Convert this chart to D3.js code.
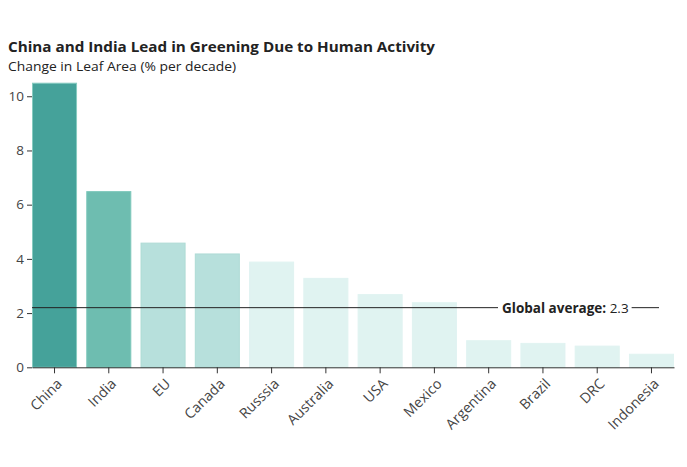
<!DOCTYPE html>
<html>
<head>
<meta charset="utf-8">
<script src="https://cdn.jsdelivr.net/npm/d3@7"></script>
<style>
  body { margin: 0; background: #fff; }
  svg { font-family: "Open Sans", Lato, sans-serif; }
</style>
</head>
<body>
<div id="container"><svg></svg></div>
<script>
let width = 687;
let height = 467;

// data
let countries = ["China", "India", "EU", "Canada", "Russsia", "Australia", "USA", "Mexico", "Argentina", "Brazil", "DRC", "Indonesia"];
let leafChange = [10.5, 6.5, 4.6, 4.2, 3.9, 3.3, 2.7, 2.4, 1.0, 0.9, 0.8, 0.5];
let yTicks = [0, 2, 4, 6, 8, 10];
let globalAvg = 2.3;
let globalAvgLine = 2.2;

let margin = {top: 82, right: 13, bottom: 100, left: 32};

let svg = d3.select('#container').select('svg')
    .attr('width', width)
    .attr('height', height);

let x = d3.scaleBand()
    .domain(countries)
    .range([margin.left, width - margin.right])
    .paddingInner(0.17)
    .paddingOuter(0);

let y = d3.scaleLinear()
    .domain([0, 10.5])
    .range([367.3, 82.7]);

// bar colour by size of change
let color = d3.scaleThreshold()
    .domain([4, 5, 10])
    .range(["#e0f3f1", "#b7e0dc", "#6ebdb0", "#45a29a"]);
let stroke = d3.scaleThreshold()
    .domain([4, 5, 10])
    .range(["#e0f3f1", "#aedbd5", "#7ec8bb", "#86cbc0"]);

let rows = countries.map((c, i) => ({name: c, value: leafChange[i]}));

// title
svg.append("text")
    .attr("x", 8).attr("y", 52)
    .attr("font-size", 14.6).attr("font-weight", "bold").attr("fill", "#222")
    .attr("textLength", 427).attr("lengthAdjust", "spacingAndGlyphs")
    .text("China and India Lead in Greening Due to Human Activity");
svg.append("text")
    .attr("x", 8).attr("y", 71)
    .attr("font-size", 13.5).attr("fill", "#222")
    .attr("textLength", 228).attr("lengthAdjust", "spacingAndGlyphs")
    .text("Change in Leaf Area (% per decade)");

// bars
svg.append("g")
    .selectAll("rect")
    .data(rows)
    .join("rect")
    .attr("x", d => x(d.name) + 0.5)
    .attr("y", d => y(d.value) + 0.5)
    .attr("width", x.bandwidth() - 1)
    .attr("height", d => y(0) - y(d.value) - 0.5)
    .attr("fill", d => color(d.value))
    .attr("stroke", d => stroke(d.value))
    .attr("stroke-width", 1);

// y axis
let yAxis = svg.append("g")
    .attr("transform", `translate(${margin.left},0)`)
    .call(d3.axisLeft(y).tickValues(yTicks).tickSize(5).tickPadding(3));
yAxis.select(".domain").remove();
yAxis.selectAll("line").attr("stroke", "#333");
yAxis.selectAll("text")
    .attr("font-family", "Open Sans, sans-serif")
    .attr("font-size", 13.5).attr("fill", "#444");

// x axis
let xAxis = svg.append("g")
    .attr("transform", `translate(0,${y(0)})`)
    .call(d3.axisBottom(x).tickSize(6).tickSizeOuter(0));
xAxis.select(".domain").attr("stroke", "#333");
xAxis.selectAll("line").attr("stroke", "#333");
xAxis.selectAll("text")
    .attr("font-family", "Open Sans, sans-serif")
    .attr("font-size", 14.2).attr("fill", "#444")
    .attr("text-anchor", "end")
    .attr("dx", "-0.1em").attr("dy", "0.1em")
    .attr("transform", "translate(2,9) rotate(-45)");

// global average line
let gy = y(globalAvgLine);
let label = svg.append("text")
    .attr("x", 502).attr("y", gy + 5)
    .attr("font-size", 13.5).attr("fill", "#222");
label.append("tspan").attr("font-weight", "bold").text("Global average: ");
label.append("tspan").text(globalAvg);
let bb = label.node().getBBox();
svg.append("line")
    .attr("x1", margin.left).attr("x2", bb.x - 4)
    .attr("y1", gy).attr("y2", gy)
    .attr("stroke", "#222").attr("stroke-width", 1);
svg.append("line")
    .attr("x1", bb.x + bb.width + 3).attr("x2", 659)
    .attr("y1", gy).attr("y2", gy)
    .attr("stroke", "#222").attr("stroke-width", 1);
</script>
</body>
</html>
